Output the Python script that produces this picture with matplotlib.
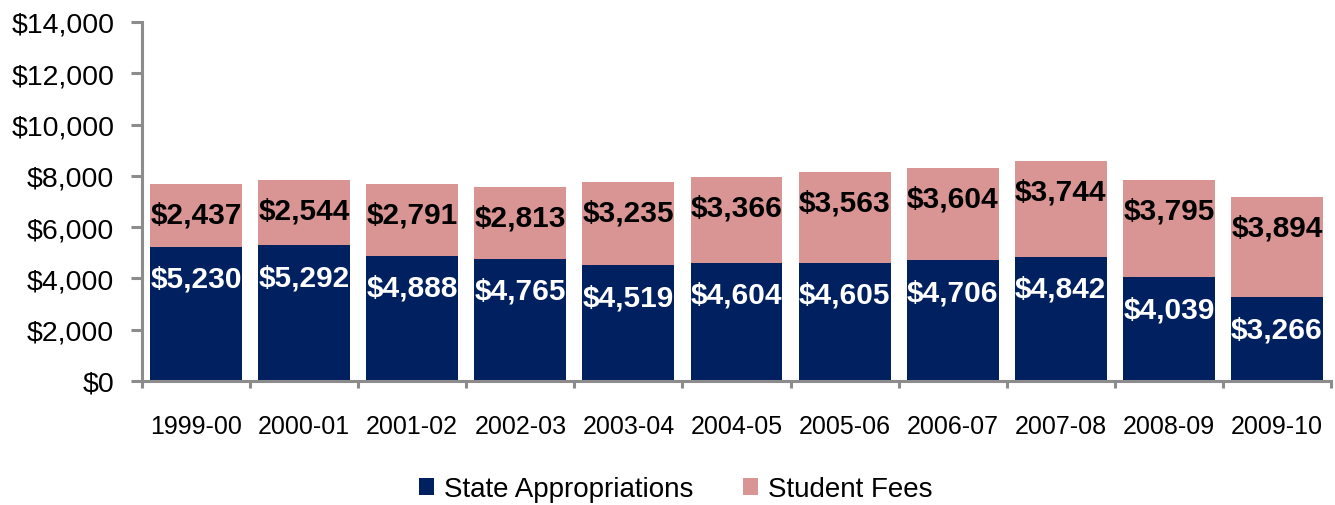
import matplotlib
matplotlib.use("Agg")
import matplotlib.pyplot as plt
import numpy as np
from matplotlib.ticker import FuncFormatter, FixedLocator

years = ["1999-00", "2000-01", "2001-02", "2002-03", "2003-04", "2004-05",
         "2005-06", "2006-07", "2007-08", "2008-09", "2009-10"]
state_approp = [5230, 5292, 4888, 4765, 4519, 4604, 4605, 4706, 4842, 4039, 3266]
student_fees = [2437, 2544, 2791, 2813, 3235, 3366, 3563, 3604, 3744, 3795, 3894]

navy = "#002060"
pink = "#D99594"
spine_gray = "#8C8C8C"

plt.rcParams['font.family'] = ['Liberation Sans', 'DejaVu Sans']

fig = plt.figure(figsize=(13.35, 5.06), dpi=100)
ax = fig.add_axes([142/1335, 1-382/506, (1331-142)/1335, (382-23)/506])

x = np.arange(len(years))
w = 0.85
b1 = ax.bar(x, state_approp, w, color=navy, label="State Appropriations")
b2 = ax.bar(x, student_fees, w, bottom=state_approp, color=pink, label="Student Fees")

for i in range(len(years)):
    ax.annotate(f"${state_approp[i]:,}", (x[i], state_approp[i]), xytext=(0, -23),
                textcoords="offset points", ha="center", va="center",
                color="white", fontsize=21.5, fontweight="bold")
    top = state_approp[i] + student_fees[i]
    ax.annotate(f"${student_fees[i]:,}", (x[i], top), xytext=(0, -22),
                textcoords="offset points", ha="center", va="center",
                color="black", fontsize=21.5, fontweight="bold")

ax.set_xlim(-0.5, len(years) - 0.5)
ax.set_ylim(0, 14000)
ax.set_yticks(np.arange(0, 14001, 2000))
ax.yaxis.set_major_formatter(FuncFormatter(lambda v, p: f"${int(v):,}"))
ax.set_xticks(x)
ax.set_xticklabels(years)
ax.xaxis.set_minor_locator(FixedLocator(np.arange(-0.5, len(years), 1.0)))

for s in ["top", "right"]:
    ax.spines[s].set_visible(False)
for s in ["left", "bottom"]:
    ax.spines[s].set_color(spine_gray)
    ax.spines[s].set_linewidth(2.2)

ax.tick_params(axis="y", which="major", length=8, width=2.2, color=spine_gray,
               labelsize=20.5, pad=12)
ax.tick_params(axis="x", which="major", length=0, labelsize=18, pad=24)
ax.tick_params(axis="x", which="minor", length=5, width=2.2, color=spine_gray)

leg = fig.legend(handles=[b1, b2], loc="center", bbox_to_anchor=(0.506, 1-490/506),
                 ncol=2, frameon=False, fontsize=20, handlelength=0.55,
                 handleheight=0.55, handletextpad=0.35, columnspacing=1.8)

fig.savefig("out.png", dpi=100)
